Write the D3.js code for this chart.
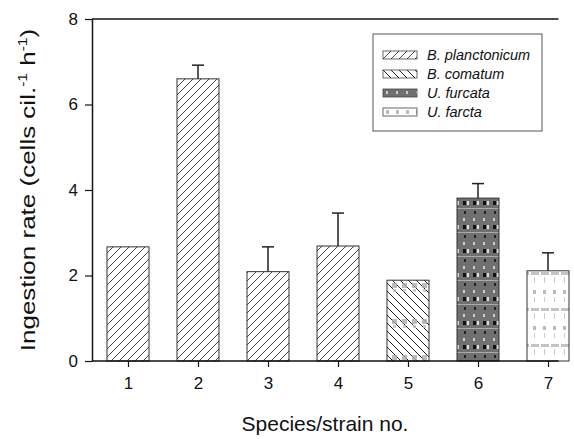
<!DOCTYPE html>
<html>
<head>
<meta charset="utf-8">
<script src="https://cdn.jsdelivr.net/npm/d3@7"></script>
<style>
  body { margin: 0; background: #fff; }
  text { font-family: "Liberation Sans", Arial, sans-serif; }
</style>
</head>
<body>
<div class="canvas"></div>
<script>
// data
const strains = [1, 2, 3, 4, 5, 6, 7];
const rates = [2.67, 6.6, 2.09, 2.69, 1.89, 3.81, 2.11];
const errTops = [null, 6.92, 2.67, 3.46, null, 4.15, 2.53];
const species = ['B. planctonicum', 'B. planctonicum', 'B. planctonicum', 'B. planctonicum', 'B. comatum', 'U. furcata', 'U. farcta'];
const legendNames = ['B. planctonicum', 'B. comatum', 'U. furcata', 'U. farcta'];
const yTicks = [0, 2, 4, 6, 8];

const width = 574, height = 439;

const svg = d3.select('.canvas')
    .append('svg')
    .attr('width', width)
    .attr('height', height);

// patterns
const defs = svg.append('defs');

const fwd = defs.append('pattern')
    .attr('id', 'pat0')
    .attr('patternUnits', 'userSpaceOnUse')
    .attr('width', 8).attr('height', 8);
fwd.append('rect').attr('width', 8).attr('height', 8).attr('fill', '#fff');
fwd.append('path')
    .attr('d', 'M-2,2 L2,-2 M0,8 L8,0 M6,10 L10,6')
    .attr('stroke', '#333').attr('stroke-width', 0.9);

const back = defs.append('pattern')
    .attr('id', 'pat1')
    .attr('patternUnits', 'userSpaceOnUse')
    .attr('width', 8).attr('height', 8);
back.append('rect').attr('width', 8).attr('height', 8).attr('fill', '#fff');
back.append('path')
    .attr('d', 'M-2,6 L2,10 M0,0 L8,8 M6,-2 L10,2')
    .attr('stroke', '#222').attr('stroke-width', 1);

// bar 5 also has grey blotch bands
const backDots = defs.append('pattern')
    .attr('id', 'pat1b')
    .attr('patternUnits', 'userSpaceOnUse')
    .attr('x', 0).attr('y', 281)
    .attr('width', 10).attr('height', 36);
backDots.append('rect').attr('x', 2).attr('y', 2).attr('width', 5).attr('height', 5).attr('fill', '#aaa').attr('opacity', 0.8);
backDots.append('rect').attr('x', 3).attr('y', 8).attr('width', 3).attr('height', 3).attr('fill', '#bbb').attr('opacity', 0.8);

const dark = defs.append('pattern')
    .attr('id', 'pat2')
    .attr('patternUnits', 'userSpaceOnUse')
    .attr('width', 10).attr('height', 24);
dark.append('rect').attr('width', 10).attr('height', 24).attr('fill', '#707070');
dark.append('rect').attr('x', 3).attr('y', 2).attr('width', 2).attr('height', 3).attr('fill', '#ccc');
dark.append('rect').attr('x', 3).attr('y', 9).attr('width', 3).attr('height', 4).attr('fill', '#111');
dark.append('rect').attr('x', 7).attr('y', 9).attr('width', 2).attr('height', 4).attr('fill', '#ddd');
dark.append('rect').attr('x', 0).attr('y', 16).attr('width', 10).attr('height', 1).attr('fill', '#aaa');
dark.append('rect').attr('x', 4).attr('y', 19).attr('width', 2).attr('height', 3).attr('fill', '#222');

const light = defs.append('pattern')
    .attr('id', 'pat3')
    .attr('patternUnits', 'userSpaceOnUse')
    .attr('width', 10).attr('height', 36);
light.append('rect').attr('width', 10).attr('height', 36).attr('fill', '#fff');
light.append('rect').attr('x', 3).attr('y', 2).attr('width', 3).attr('height', 4).attr('fill', '#bbb');
light.append('rect').attr('x', 4).attr('y', 9).attr('width', 1).attr('height', 5).attr('fill', '#ccc');
light.append('rect').attr('x', 1).attr('y', 20).attr('width', 8).attr('height', 3).attr('fill', '#c4c4c4');
light.append('rect').attr('x', 4).attr('y', 25).attr('width', 1).attr('height', 6).attr('fill', '#ccc');

const fillFor = name => 'url(#pat' + legendNames.indexOf(name) + ')';

// scales
const x = d3.scaleLinear().domain([0.5, 7.15]).range([93, 558.5]);
const y = d3.scaleLinear().domain([0, 8]).range([361, 19]);
const barW = 42;

// bars
const bars = svg.append('g').attr('class', 'bars');
bars.selectAll('rect.bar')
    .data(strains)
    .enter()
    .append('rect')
    .attr('class', 'bar')
    .attr('x', (d, i) => x(d) - barW / 2)
    .attr('y', (d, i) => y(rates[i]))
    .attr('width', barW)
    .attr('height', (d, i) => y(0) - y(rates[i]))
    .attr('fill', (d, i) => fillFor(species[i]))
    .attr('stroke', '#333')
    .attr('stroke-width', 1);

// extra blotches on bar 5
bars.append('rect')
    .attr('x', x(5) - barW / 2 + 1)
    .attr('y', y(rates[4]) + 1)
    .attr('width', barW - 2)
    .attr('height', y(0) - y(rates[4]) - 2)
    .attr('fill', 'url(#pat1b)');

// error bars
const errs = svg.append('g').attr('class', 'errs');
strains.forEach((s, i) => {
    if (errTops[i] == null) return;
    errs.append('line')
        .attr('x1', x(s)).attr('x2', x(s))
        .attr('y1', y(rates[i])).attr('y2', y(errTops[i]))
        .attr('stroke', '#222').attr('stroke-width', 1.5);
    errs.append('line')
        .attr('x1', x(s) - 6).attr('x2', x(s) + 6)
        .attr('y1', y(errTops[i])).attr('y2', y(errTops[i]))
        .attr('stroke', '#222').attr('stroke-width', 1.5);
});

// axes
const xAxis = d3.axisBottom(x).tickValues(strains).tickFormat(d3.format('d'))
    .tickSize(6).tickSizeOuter(0).tickPadding(10);
const yAxis = d3.axisLeft(y).tickValues(yTicks).tickFormat(d3.format('d'))
    .tickSize(7).tickSizeOuter(0).tickPadding(7);

const xAxisGroup = svg.append('g')
    .attr('transform', `translate(0, ${y(0)})`)
    .call(xAxis);
const yAxisGroup = svg.append('g')
    .attr('transform', `translate(${x.range()[0] - 1}, 0)`)
    .call(yAxis);

[xAxisGroup, yAxisGroup].forEach(g => {
    g.select('.domain').attr('stroke', '#111').attr('stroke-width', 1.5);
    g.selectAll('.tick line').attr('stroke', '#111').attr('stroke-width', 1.2);
    g.selectAll('text')
        .attr('font-size', 17)
        .attr('fill', '#111')
        .attr('font-family', '"Liberation Sans", Arial, sans-serif');
});
xAxisGroup.select('.domain').attr('d', `M${x.range()[0] - 1},0H${x.range()[1]}`);

// top frame line
svg.append('line')
    .attr('x1', x.range()[0] - 1).attr('x2', x.range()[1])
    .attr('y1', y(8)).attr('y2', y(8))
    .attr('stroke', '#111').attr('stroke-width', 1.5);

// axis titles
svg.append('text')
    .attr('x', 325).attr('y', 431)
    .attr('text-anchor', 'middle')
    .attr('font-size', 21)
    .attr('fill', '#111')
    .text('Species/strain no.');

// y title is stretched along its length in the reference
const yTitle = svg.append('text')
    .attr('transform', 'translate(35, 190) rotate(-90) scale(1.3, 1)')
    .attr('text-anchor', 'middle')
    .attr('font-size', 20)
    .attr('fill', '#111');
yTitle.append('tspan').text('Ingestion rate (cells cil.');
yTitle.append('tspan').attr('dy', -8).attr('font-size', 12).text('-1');
yTitle.append('tspan').attr('dy', 8).text(' h');
yTitle.append('tspan').attr('dy', -8).attr('font-size', 12).text('-1');
yTitle.append('tspan').attr('dy', 8).text(')');

// legend
const legend = svg.append('g').attr('transform', 'translate(373, 34)');
legend.append('rect')
    .attr('width', 169).attr('height', 97)
    .attr('fill', '#fff')
    .attr('stroke', '#555').attr('stroke-width', 1);

const items = legend.selectAll('g.item')
    .data(legendNames)
    .enter()
    .append('g')
    .attr('class', 'item')
    .attr('transform', (d, i) => `translate(10, ${17 + i * 19})`);
items.append('rect')
    .attr('width', 34).attr('height', 8)
    .attr('fill', (d, i) => 'url(#pat' + i + ')')
    .attr('stroke', '#444').attr('stroke-width', 0.8);
items.append('text')
    .attr('x', 44).attr('y', 9)
    .attr('font-size', 14.5)
    .attr('font-style', 'italic')
    .attr('fill', '#111')
    .text(d => d);
</script>
</body>
</html>
